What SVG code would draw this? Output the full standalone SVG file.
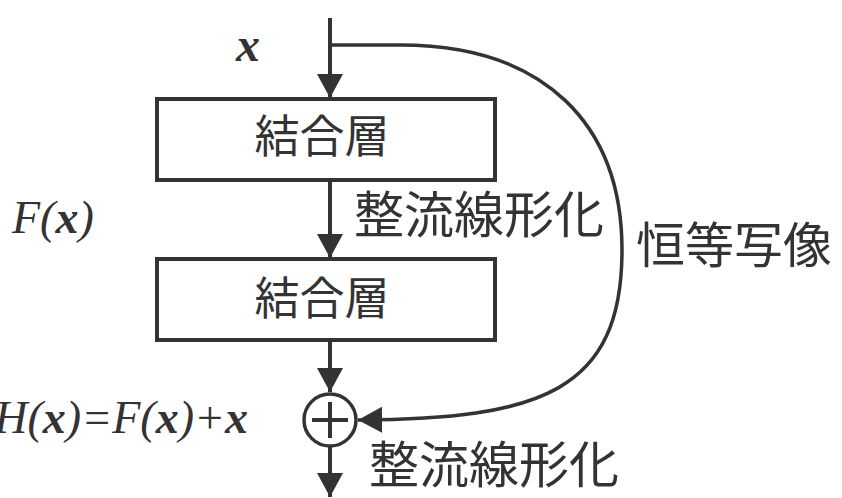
<svg xmlns="http://www.w3.org/2000/svg" width="842" height="498" viewBox="0 0 842 498">
<style>
.ln{fill:none;stroke:#333;stroke-width:4}
.cv{fill:none;stroke:#333;stroke-width:3.5}
.box{fill:#fff;stroke:#333;stroke-width:4}
.jp{font-family:"Noto Sans CJK JP","Noto Sans CJK SC",sans-serif;fill:#333}
.math{font-family:"Liberation Serif","Times New Roman",serif;font-style:italic;fill:#333}
.b{font-weight:bold}
</style>
<defs>
<marker id="ah" markerUnits="userSpaceOnUse" markerWidth="26" markerHeight="28" refX="24" refY="14" orient="auto" viewBox="0 0 26 28">
<path d="M0,1 L24,14 L0,27 Z" fill="#333"/>
</marker>
</defs>
<rect width="842" height="498" fill="#fff"/>
<g id="connectors">
<path class="ln" d="M330,18 V98" marker-end="url(#ah)"/>
<path class="ln" d="M330,180 V258" marker-end="url(#ah)"/>
<path class="ln" d="M330,340 V392" marker-end="url(#ah)"/>
<path class="ln" d="M330,447 V497" marker-end="url(#ah)"/>
<path class="cv" d="M330,45 H400 C545,45 622,125 622,250 C622,392 540,419 358,420" marker-end="url(#ah)"/>
</g>
<g id="input-label"><text class="math b" x="236" y="61" font-size="48">x</text></g>
<g id="fc1">
<rect class="box" x="157" y="99" width="338" height="81"/>
<text class="jp" x="322" y="153" font-size="45" text-anchor="middle">結合層</text>
</g>
<g id="relu1"><text class="jp" x="354" y="233" font-size="50">整流線形化</text></g>
<g id="fx-label"><text class="math" x="12" y="233" font-size="46">F(<tspan class="b">x</tspan>)</text></g>
<g id="identity-label"><text class="jp" x="636" y="263" font-size="49">恒等写像</text></g>
<g id="fc2">
<rect class="box" x="157" y="259" width="338" height="81"/>
<text class="jp" x="322" y="315" font-size="45" text-anchor="middle">結合層</text>
</g>
<g id="add">
<circle cx="330" cy="420" r="26" fill="#fff" stroke="#333" stroke-width="3.5"/>
<path class="ln" d="M312,420 H348 M330,402 V438"/>
</g>
<g id="hx-label"><text class="math" x="248" y="433" font-size="46" text-anchor="end">H(<tspan class="b">x</tspan>)=F(<tspan class="b">x</tspan>)+<tspan class="b">x</tspan></text></g>
<g id="relu2"><text class="jp" x="369" y="483" font-size="50">整流線形化</text></g>
</svg>
